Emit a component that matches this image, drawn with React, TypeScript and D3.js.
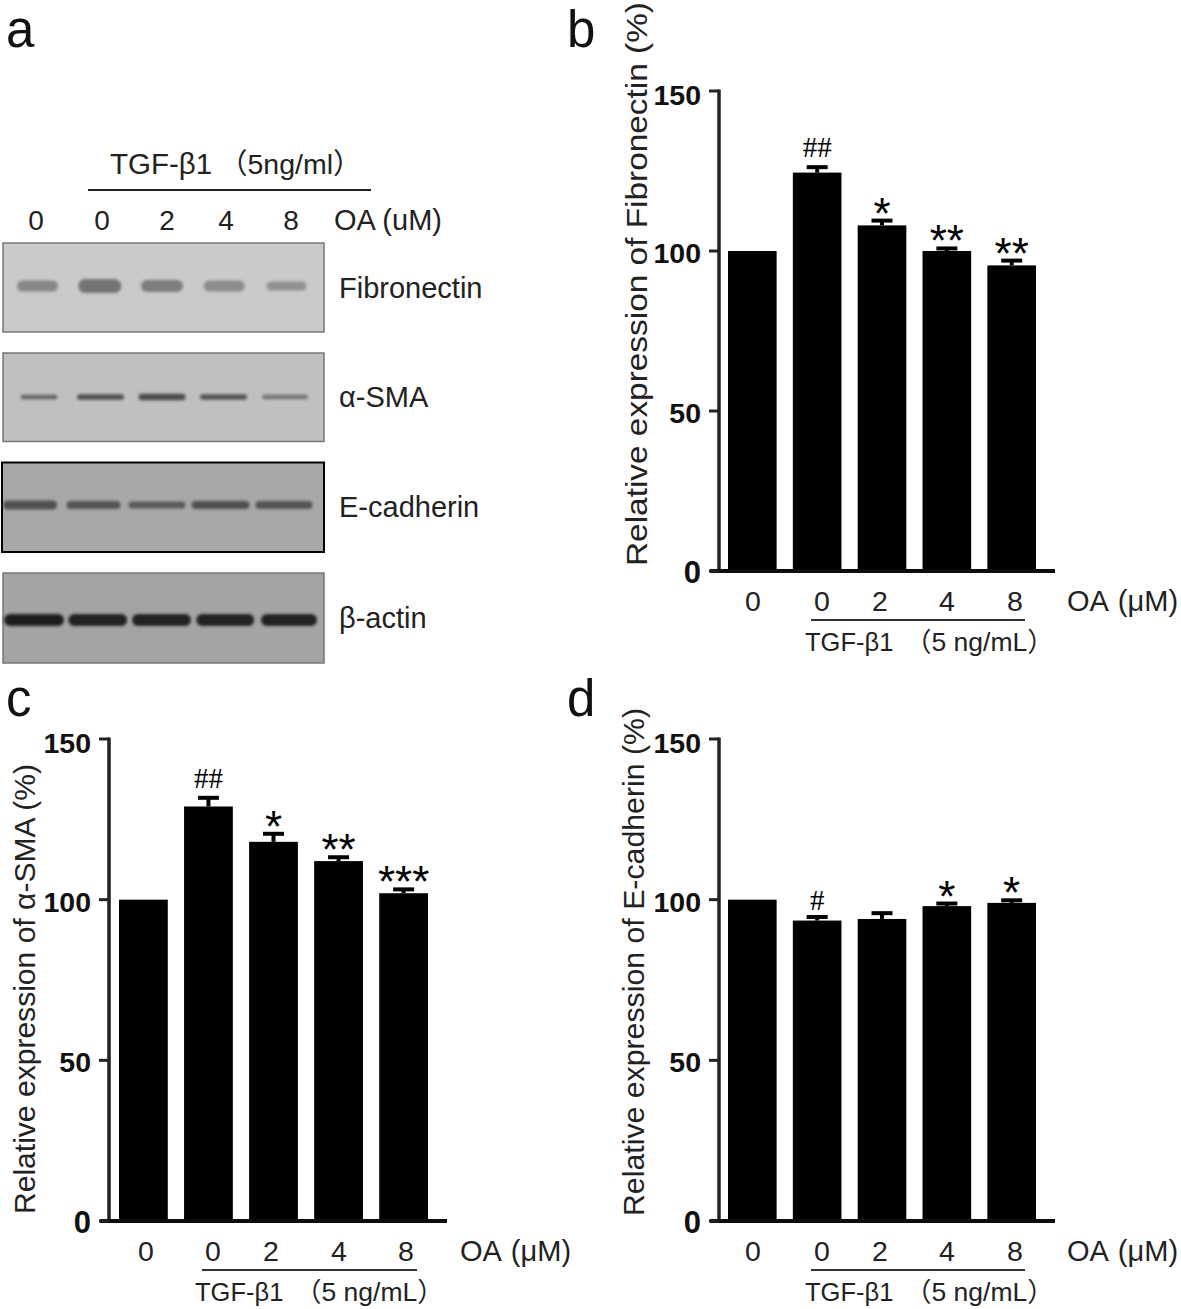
import React from "react";
import * as d3 from "d3";

const doses = ["0", "0", "2", "4", "8"];
const fibronectinValues = [100, 124.5, 108, 100, 95.5];
const fibronectinErrors = [0, 1.7, 1.5, 0.8, 1.5];
const fibronectinMarks = ["", "##", "*", "**", "**"];
const smaValues = [100, 129, 118, 112, 102];
const smaErrors = [0, 2.7, 2.5, 1.2, 1.2];
const smaMarks = ["", "##", "*", "**", "***"];
const cadherinValues = [100, 93.5, 94, 98, 99];
const cadherinErrors = [0, 1.1, 1.8, 0.8, 0.8];
const cadherinMarks = ["", "#", "", "*", "*"];
const yTicks = [0, 50, 100, 150];

const fibBandWidths = [41, 43, 42, 41, 40];
const fibBandHeights = [9, 12, 10, 9, 7];
const fibBandTones = [135, 115, 125, 140, 145];
const smaBandWidths = [37, 47, 47, 47, 46];
const smaBandHeights = [2.5, 3.5, 4.5, 3.5, 2.5];
const smaBandTones = [100, 80, 75, 85, 115];
const cadBandWidths = [54, 54, 57, 58, 57];
const cadBandHeights = [7, 6, 5, 6, 6];
const cadBandTones = [80, 85, 90, 80, 85];
const actinBandWidths = [60, 59, 59, 58, 56];
const actinBandHeights = [10, 10, 10, 10, 10];
const actinBandTones = [30, 35, 35, 35, 35];

const SANS = "'Liberation Sans','Noto Sans CJK SC',Arial,sans-serif";
const SERIF = "'Liberation Serif',serif";

function Bars({ axisX, top, bottom, x0, x1, values, errors, marks, ylabel, ylabelX, ylabelY, ylabelLen, labelXs, oaX, lineX0, lineX1, tgfX }: any) {
  const y = d3.scaleLinear().domain([0, 150]).range([bottom, top]);
  const x = d3.scaleBand<number>().domain(d3.range(values.length)).range([x0, x1]).paddingInner(0.25).paddingOuter(0);
  const bw = x.bandwidth();
  return (
    <g fontFamily={SANS}>
      <g filter="url(#soft)">
        {values.map((v: number, i: number) => {
          const bx = x(i)!;
          const cx = bx + bw / 2;
          const e = errors[i];
          return (
            <g key={i}>
              <rect x={bx} y={y(v)} width={bw} height={bottom - y(v)} fill="#000" />
              {e > 0 && <line x1={cx} x2={cx} y1={y(v)} y2={y(v + e)} stroke="#000" strokeWidth={4} />}
              {e > 0 && <line x1={cx - 10.5} x2={cx + 10.5} y1={y(v + e)} y2={y(v + e)} stroke="#000" strokeWidth={4} />}
            </g>
          );
        })}
        <line x1={axisX} x2={axisX} y1={top - 1.5} y2={bottom + 2} stroke="#222" strokeWidth={3.5} />
        <line x1={axisX - 9} x2={x1 + 19} y1={bottom} y2={bottom} stroke="#111" strokeWidth={4} />
        {yTicks.map((t) => (
          <line key={t} x1={axisX - 10} x2={axisX} y1={y(t)} y2={y(t)} stroke="#222" strokeWidth={3} />
        ))}
      </g>
      {yTicks.map((t) => (
        <text key={t} x={axisX - 18} y={y(t) + (t === 150 ? 14 : 12)} textAnchor="end" fontSize={t === 0 ? 31 : 28.5} fontWeight="bold" fill="#111">{t}</text>
      ))}
      {marks.map((m: string, i: number) => {
        if (!m) return null;
        const cx = x(i)! + bw / 2;
        const capY = y(values[i] + errors[i]);
        return m.startsWith("#") ? (
          <text key={i} x={cx} y={capY - (m.length === 1 ? 7 : 10)} textAnchor="middle" fontFamily={SERIF} fontSize={29} fill="#000">{m}</text>
        ) : (
          <text key={i} x={cx} y={capY + 8} textAnchor="middle" fontSize={44} fill="#000">{m}</text>
        );
      })}
      <text transform={`translate(${ylabelX},${ylabelY}) rotate(-90)`} textAnchor="middle" fontSize={30} textLength={ylabelLen} lengthAdjust="spacingAndGlyphs" fill="#222">{ylabel}</text>
      {doses.map((d, i) => (
        <text key={i} x={labelXs[i]} y={bottom + 40} textAnchor="middle" fontSize={28.5} fill="#222">{d}</text>
      ))}
      <text x={oaX} y={bottom + 40} fontSize={29} wordSpacing={2.5} fill="#222">OA (μM)</text>
      <line x1={lineX0} x2={lineX1} y1={bottom + 49} y2={bottom + 49} stroke="#333" strokeWidth={2} />
      <text x={tgfX} y={bottom + 80} fontSize={25.5} fill="#222">TGF-β1</text>
      <text x={tgfX + 100} y={bottom + 80} fontSize={26.5} fill="#222">（5 ng/mL）</text>
    </g>
  );
}

function Blot({ top, height, bg, dark, rangeX, widths, heights, tones, bandY, label }: any) {
  const lane = d3.scalePoint<number>().domain(d3.range(5)).range(rangeX);
  const xL = dark ? 2 : 3;
  return (
    <g>
      <rect x={xL} y={top} width={324 - xL} height={height} fill={bg} stroke={dark ? "#000" : "#777"} strokeWidth={dark ? 2 : 1.5} />
      <g filter="url(#band)">
        {widths.map((w: number, i: number) => {
          const t = tones[i];
          const h = heights[i] + 2;
          return <rect key={i} x={lane(i)! - w / 2} y={bandY - h / 2} width={w} height={h} rx={h / 2} fill={`rgb(${t},${t},${t})`} />;
        })}
      </g>
      <text x={339} y={top + height / 2 + 10} fontFamily={SANS} fontSize={29} fill="#222">{label}</text>
    </g>
  );
}

export default function App() {
  return (
    <svg width={1181} height={1309} style={{ position: "absolute", left: 0, top: 0, background: "#fff" }}>
      <defs>
        <filter id="soft" x="-5%" y="-5%" width="110%" height="110%"><feGaussianBlur stdDeviation="0.6" /></filter>
        <filter id="band" x="-10%" y="-100%" width="120%" height="300%"><feGaussianBlur stdDeviation="1.6" /></filter>
      </defs>
      <g fontFamily={SANS} fontSize={51} fill="#111">
        <text x={6} y={47}>a</text>
        <text x={567} y={47}>b</text>
        <text x={6} y={716}>c</text>
        <text x={567} y={716}>d</text>
      </g>
      <g fontFamily={SANS} fill="#222">
        <text x={110} y={174} fontSize={29.5}>TGF-β1</text>
        <text x={219} y={174} fontSize={28.5}>（5ng/ml）</text>
        <line x1={88} x2={371} y1={190} y2={190} stroke="#222" strokeWidth={2} />
        {doses.map((d, i) => (
          <text key={i} x={[36, 102, 167, 226, 291][i]} y={230} textAnchor="middle" fontSize={28}>{d}</text>
        ))}
        <text x={334} y={230} fontSize={29}>OA (uM)</text>
      </g>
      <Blot top={243} height={89} bg="#cacaca" rangeX={[37.5, 286.5]} widths={fibBandWidths} heights={fibBandHeights} tones={fibBandTones} bandY={286} label="Fibronectin" />
      <Blot top={353} height={88.5} bg="#c0c0c0" rangeX={[39, 285]} widths={smaBandWidths} heights={smaBandHeights} tones={smaBandTones} bandY={397} label="α-SMA" />
      <Blot top={462.5} height={89.5} bg="#a8a8a8" dark rangeX={[30, 284]} widths={cadBandWidths} heights={cadBandHeights} tones={cadBandTones} bandY={505} label="E-cadherin" />
      <Blot top={573} height={90} bg="#a4a4a4" rangeX={[34, 289]} widths={actinBandWidths} heights={actinBandHeights} tones={actinBandTones} bandY={620} label="β-actin" />

      <Bars axisX={719} top={91} bottom={571} x0={728} x1={1036} values={fibronectinValues} errors={fibronectinErrors} marks={fibronectinMarks}
        ylabel="Relative expression of Fibronectin (%)" ylabelX={647} ylabelY={284} ylabelLen={564} labelXs={[753, 822, 880, 947, 1015]} oaX={1067} lineX0={811} lineX1={1025} tgfX={805} />
      <Bars axisX={109} top={739} bottom={1221} x0={119} x1={428} values={smaValues} errors={smaErrors} marks={smaMarks}
        ylabel="Relative expression of α-SMA (%)" ylabelX={35} ylabelY={989} ylabelLen={450} labelXs={[146, 213, 271, 339, 406]} oaX={460} lineX0={202} lineX1={417} tgfX={195} />
      <Bars axisX={719} top={739} bottom={1221} x0={728} x1={1036} values={cadherinValues} errors={cadherinErrors} marks={cadherinMarks}
        ylabel="Relative expression of E-cadherin (%)" ylabelX={644} ylabelY={962} ylabelLen={508} labelXs={[753, 822, 880, 947, 1015]} oaX={1067} lineX0={811} lineX1={1025} tgfX={805} />
    </svg>
  );
}
